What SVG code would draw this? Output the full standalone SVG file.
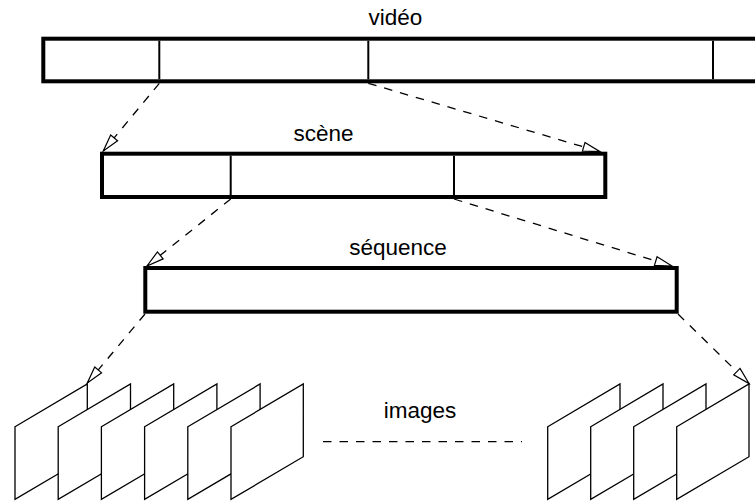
<svg xmlns="http://www.w3.org/2000/svg" width="755" height="501" viewBox="0 0 755 501">
<defs>
<style>
.bar{fill:#fff;stroke:#000;stroke-width:4}
.div{stroke:#000;stroke-width:2}
.lbl{font-family:"Liberation Sans",Arial,sans-serif;font-size:22.5px;fill:#000;text-anchor:middle}
.conn{fill:none;stroke:#000;stroke-width:1.3;stroke-dasharray:8.5 8}
.frame{fill:#fff;stroke:#000;stroke-width:1.3;stroke-linejoin:miter}
</style>
<marker id="arr" markerUnits="userSpaceOnUse" markerWidth="20" markerHeight="12" viewBox="-1 -6 20 12" refX="17" refY="0" orient="auto">
<path d="M0,-4.5 L17,0 L0,4.5 Z" fill="#fff" stroke="#000" stroke-width="1.2" stroke-dasharray="none"/>
</marker>
</defs>
<rect width="755" height="501" fill="#fff"/>

<g id="video">
<text class="lbl" x="395.5" y="25">vidéo</text>
<rect class="bar" x="43.3" y="38.7" width="730" height="42.6"/>
<line class="div" x1="159.3" y1="40.7" x2="159.3" y2="79.3"/>
<line class="div" x1="368.3" y1="40.7" x2="368.3" y2="79.3"/>
<line class="div" x1="713" y1="40.7" x2="713" y2="79.3"/>
</g>

<g id="scene">
<text class="lbl" x="323.4" y="141">scène</text>
<rect class="bar" x="102" y="153.7" width="503.3" height="43.3"/>
<line class="div" x1="230.7" y1="155.7" x2="230.7" y2="195"/>
<line class="div" x1="454" y1="155.7" x2="454" y2="195"/>
</g>

<g id="sequence">
<text class="lbl" x="398" y="255">séquence</text>
<rect class="bar" x="145.3" y="268" width="531.4" height="43.7"/>
</g>

<g id="images-left">
<polygon class="frame" points="15,426.7 87.3,384 87.3,456.7 15,499.4"/>
<polygon class="frame" points="58.2,426.7 130.5,384 130.5,456.7 58.2,499.4"/>
<polygon class="frame" points="101.4,426.7 173.7,384 173.7,456.7 101.4,499.4"/>
<polygon class="frame" points="144.6,426.7 216.9,384 216.9,456.7 144.6,499.4"/>
<polygon class="frame" points="187.8,426.7 260.1,384 260.1,456.7 187.8,499.4"/>
<polygon class="frame" points="231,426.7 303.3,384 303.3,456.7 231,499.4"/>
</g>

<g id="images-label">
<text class="lbl" x="420" y="418.3">images</text>
</g>

<g id="images-right">
<polygon class="frame" points="547.7,426.7 620,384 620,456.7 547.7,499.4"/>
<polygon class="frame" points="590.7,426.7 663,384 663,456.7 590.7,499.4"/>
<polygon class="frame" points="633.7,426.7 706,384 706,456.7 633.7,499.4"/>
<polygon class="frame" points="676.7,426.7 749,384 749,456.7 676.7,499.4"/>
</g>

<g id="connectors">
<path class="conn" d="M159.3,83.3 L103.3,151" marker-end="url(#arr)"/>
<path class="conn" d="M368.3,83.3 L600,151.7" marker-end="url(#arr)"/>
<path class="conn" d="M230.7,199 L147,266" marker-end="url(#arr)"/>
<path class="conn" d="M454,199 L672,266" marker-end="url(#arr)"/>
<path class="conn" d="M145,314 L87.3,383" marker-end="url(#arr)"/>
<path class="conn" d="M678,314 L749,383.5" marker-end="url(#arr)"/>
<path class="conn" d="M323,441.7 L522,441.7"/>
</g>
</svg>
